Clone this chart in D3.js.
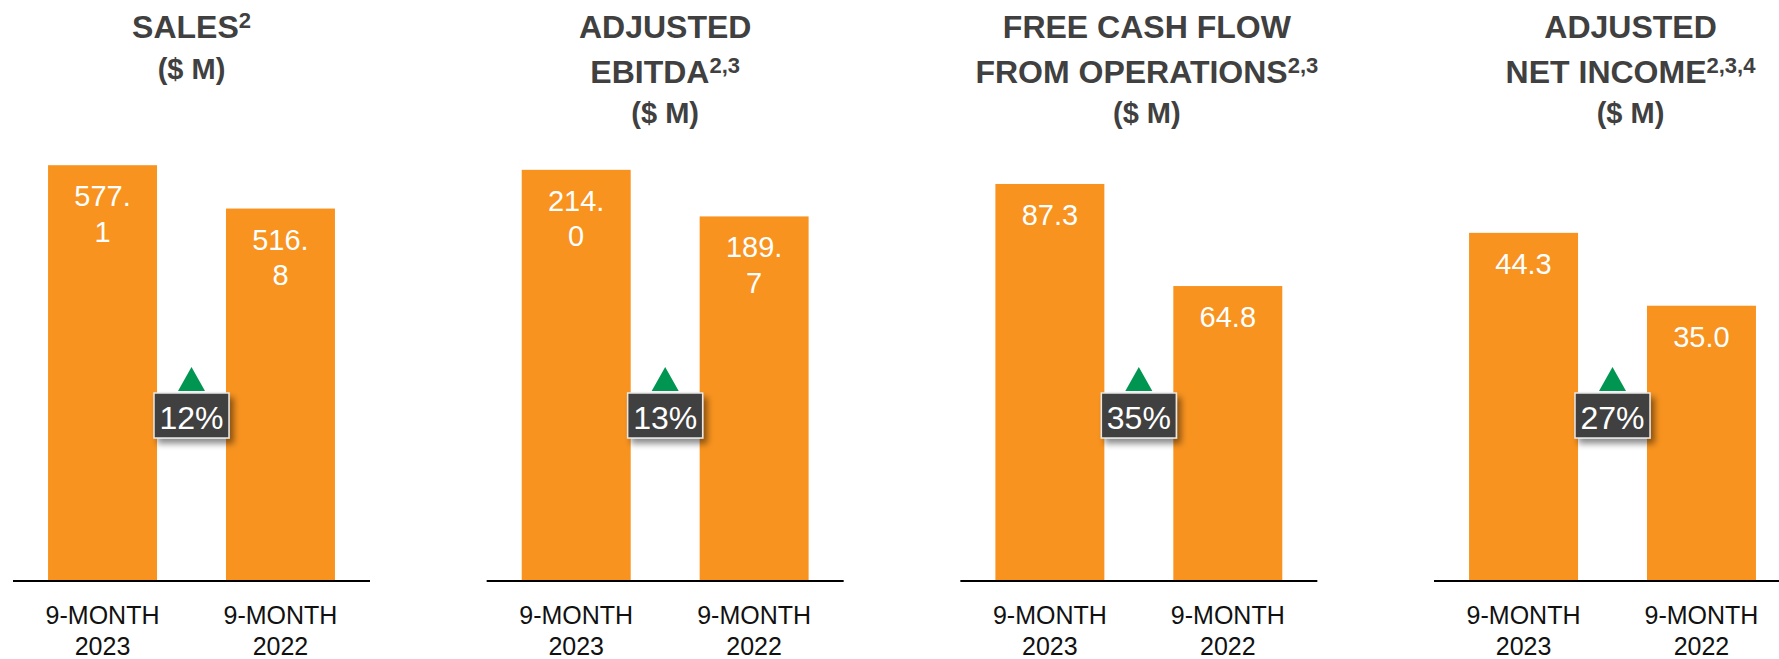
<!DOCTYPE html>
<html>
<head>
<meta charset="utf-8">
<script src="https://cdn.jsdelivr.net/npm/d3@7"></script>
<style>
    html, body { margin: 0; padding: 0; background: #fff; }
    svg { display: block; }
    .kpi-title { font-family: "Liberation Sans", Arial, sans-serif; font-weight: bold; fill: #404040; }
    .kpi-value { font-family: "Liberation Sans", Arial, sans-serif; fill: #fff; font-size: 29px; }
    .kpi-cat { font-family: "Liberation Sans", Arial, sans-serif; fill: #111; font-size: 25px; }
    .kpi-badge { font-family: "Liberation Sans", Arial, sans-serif; fill: #fff; font-size: 32px; }
</style>
</head>
<body>
<svg id="chart" width="1779" height="659"></svg>
<script>
// chart data
const titleLines = [["SALES"], ["ADJUSTED", "EBITDA"], ["FREE CASH FLOW", "FROM OPERATIONS"], ["ADJUSTED", "NET INCOME"]];
const footnotes = ["2", "2,3", "2,3", "2,3,4"];
const unitLabel = "($ M)";
const periods = [["9-MONTH", "2023"], ["9-MONTH", "2022"]];
const values2023 = [577.1, 214.0, 87.3, 44.3];
const values2022 = [516.8, 189.7, 64.8, 35.0];
const growthLabels = ["12%", "13%", "35%", "27%"];
const axisMax = [640, 240, 101.4, 58.7]; // value axis maximum of every panel

// layout
const panelStep = 473.67, panelLeft = 13, panelWidth = 357;
const baseY = 580, plotTop = 120;
const titleShift = [0, 0, 8, 18];
const barColor = "#F8931F", arrowColor = "#009651", badgeColor = "#404040";

const svg = d3.select("#chart");

// drop shadow for the growth badge
svg.append("defs").append("filter")
    .attr("id", "shadow").attr("x", "-30%").attr("y", "-30%").attr("width", "170%").attr("height", "180%")
    .append("feDropShadow")
    .attr("dx", 4).attr("dy", 5).attr("stdDeviation", 3)
    .attr("flood-color", "#000").attr("flood-opacity", 0.45);

const fmt = d3.format(".1f");

titleLines.forEach((lines, i) => {
    const g = svg.append("g").attr("transform", `translate(${panelLeft + i * panelStep},0)`);
    const rows = [
        { key: periods[0], value: values2023[i] },
        { key: periods[1], value: values2022[i] }
    ];

    const x = d3.scaleBand()
        .domain(rows.map(d => d.key.join(" ")))
        .range([0, panelWidth])
        .paddingInner(0.3876)
        .paddingOuter(0.197);
    const y = d3.scaleLinear().domain([0, axisMax[i]]).range([baseY, plotTop]);

    const cx = x.range()[0] + panelWidth / 2;

    // title
    const title = g.append("g").attr("transform", `translate(${cx + titleShift[i]},0)`);
    lines.forEach((line, j) => {
        const t = title.append("text").attr("class", "kpi-title")
            .attr("text-anchor", "middle")
            .attr("y", 38 + j * 44.5)
            .style("font-size", "32px")
            .text(line);
        if (j === lines.length - 1) {
            t.append("tspan").attr("dy", -10).style("font-size", "22px").text(footnotes[i]);
        }
    });
    title.append("text").attr("class", "kpi-title")
        .attr("text-anchor", "middle")
        .attr("y", 38 + (lines.length - 1) * 44.5 + 40.5)
        .style("font-size", "29px")
        .text(unitLabel);

    // bars
    g.selectAll(".bar").data(rows).enter().append("rect")
        .attr("class", "bar")
        .attr("x", d => x(d.key.join(" ")))
        .attr("width", x.bandwidth())
        .attr("y", d => y(d.value))
        .attr("height", d => baseY - y(d.value))
        .attr("fill", barColor);

    // value labels, wrapped after the decimal point when too wide
    rows.forEach(d => {
        const bx = x(d.key.join(" ")) + x.bandwidth() / 2;
        const label = fmt(d.value);
        const t = g.append("text").attr("class", "kpi-value")
            .attr("text-anchor", "middle")
            .attr("x", bx).attr("y", y(d.value) + 41)
            .text(label);
        if (t.node().getComputedTextLength() > 64) {
            const cut = label.indexOf(".") + 1;
            t.text(null);
            t.append("tspan").attr("x", bx).text(label.slice(0, cut));
            t.append("tspan").attr("x", bx).attr("dy", 35.5).text(label.slice(cut));
        }
    });

    // baseline
    g.append("line")
        .attr("x1", 0).attr("x2", panelWidth)
        .attr("y1", baseY + 1).attr("y2", baseY + 1)
        .attr("stroke", "#000").attr("stroke-width", 2);

    // category labels
    rows.forEach(d => {
        const bx = x(d.key.join(" ")) + x.bandwidth() / 2;
        d.key.forEach((part, j) => {
            g.append("text").attr("class", "kpi-cat")
                .attr("text-anchor", "middle")
                .attr("x", bx).attr("y", 624 + j * 31)
                .text(part);
        });
    });

    // growth badge between the bars
    const gx = (x(rows[0].key.join(" ")) + x.bandwidth() + x(rows[1].key.join(" "))) / 2;
    const boxTop = 393, boxW = 75, boxH = 45;
    g.append("path")
        .attr("d", `M${gx},${boxTop - 26} L${gx + 13.5},${boxTop - 2} L${gx - 13.5},${boxTop - 2} Z`)
        .attr("fill", arrowColor);
    g.append("rect")
        .attr("x", gx - boxW / 2).attr("y", boxTop)
        .attr("width", boxW).attr("height", boxH)
        .attr("fill", badgeColor)
        .attr("stroke", "#e8e8e8").attr("stroke-width", 1.5)
        .attr("filter", "url(#shadow)");
    g.append("text").attr("class", "kpi-badge")
        .attr("text-anchor", "middle")
        .attr("x", gx).attr("y", boxTop + 36)
        .text(growthLabels[i]);
});
</script>
</body>
</html>
